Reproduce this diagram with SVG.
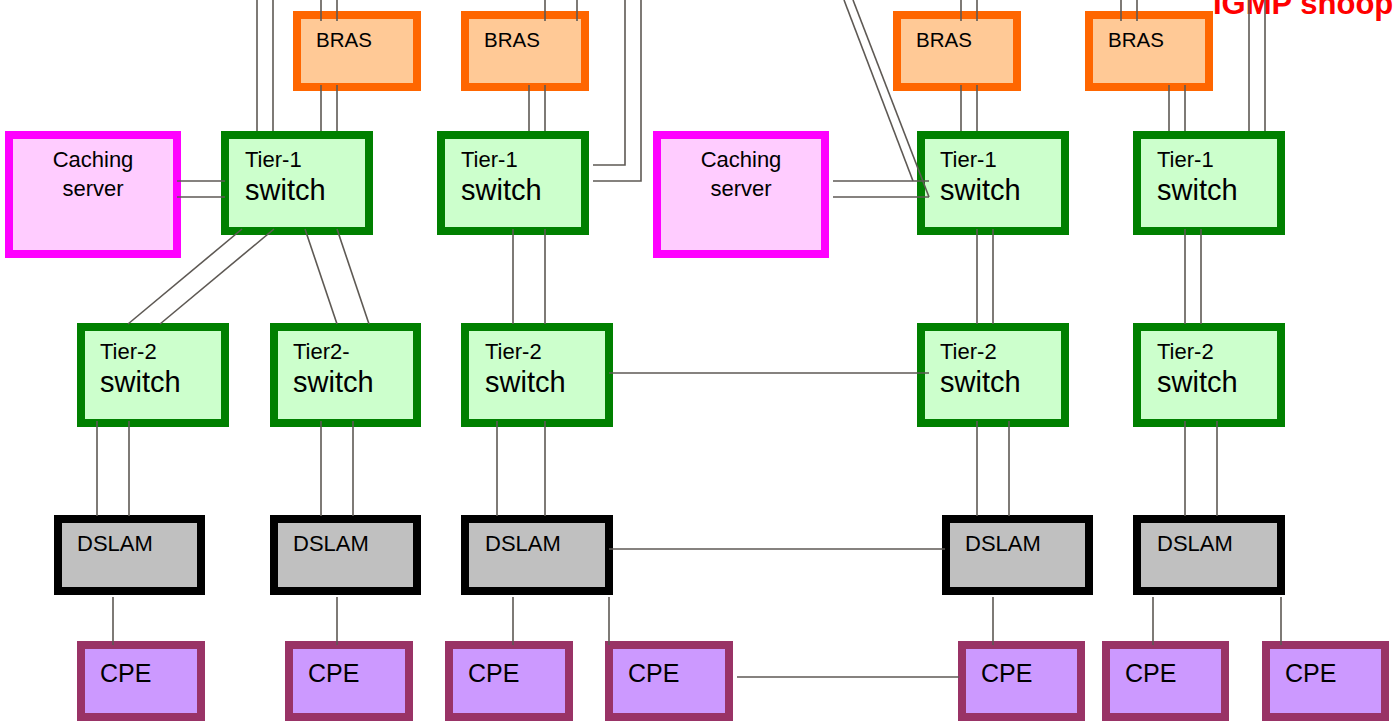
<svg xmlns="http://www.w3.org/2000/svg" width="1393" height="728" viewBox="0 0 1393 728">
  <style>
    .bras rect { fill: #FFC996; stroke: #FF6600; stroke-width: 8; }
    .sw rect { fill: #CCFFCC; stroke: #008000; stroke-width: 8; }
    .cache rect { fill: #FFCCFF; stroke: #FF00FF; stroke-width: 8; }
    .dslam rect { fill: #C0C0C0; stroke: #000000; stroke-width: 8; }
    .cpe rect { fill: #CC99FF; stroke: #993366; stroke-width: 8; }
    text { font-family: "Liberation Sans", Arial, sans-serif; fill: #000000; }
    .t20 { font-size: 20.5px; }
    .t22 { font-size: 22px; }
    .t28 { font-size: 29px; }
    .t25 { font-size: 25px; }
    .title { font-size: 31px; font-weight: bold; fill: #FF0000; }
    #links line, #links polyline { stroke: #5E5954; stroke-width: 1.6; fill: none; }
  </style>

  <rect x="0" y="0" width="1393" height="728" fill="#FFFFFF"/>

  <text class="title" x="1213" y="14">IGMP snooping</text>

  <!-- BRAS row -->
  <g id="bras1" class="bras"><rect x="297" y="15" width="120" height="72"/><text class="t20" x="316" y="47">BRAS</text></g>
  <g id="bras2" class="bras"><rect x="465" y="15" width="120" height="72"/><text class="t20" x="484" y="47">BRAS</text></g>
  <g id="bras3" class="bras"><rect x="897" y="15" width="120" height="72"/><text class="t20" x="916" y="47">BRAS</text></g>
  <g id="bras4" class="bras"><rect x="1089" y="15" width="120" height="72"/><text class="t20" x="1108" y="47">BRAS</text></g>

  <!-- Caching servers -->
  <g id="cache1" class="cache"><rect x="9" y="135" width="168" height="119"/>
    <text class="t22" x="93" y="167" text-anchor="middle">Caching</text>
    <text class="t22" x="93" y="196" text-anchor="middle">server</text></g>
  <g id="cache2" class="cache"><rect x="657" y="135" width="168" height="119"/>
    <text class="t22" x="741" y="167" text-anchor="middle">Caching</text>
    <text class="t22" x="741" y="196" text-anchor="middle">server</text></g>

  <!-- Tier-1 switches -->
  <g id="t1a" class="sw"><rect x="225" y="135" width="144" height="96"/><text class="t22" x="245" y="167">Tier-1</text><text class="t28" x="245" y="200">switch</text></g>
  <g id="t1b" class="sw"><rect x="441" y="135" width="144" height="96"/><text class="t22" x="461" y="167">Tier-1</text><text class="t28" x="461" y="200">switch</text></g>
  <g id="t1c" class="sw"><rect x="921" y="135" width="144" height="96"/><text class="t22" x="940" y="167">Tier-1</text><text class="t28" x="940" y="200">switch</text></g>
  <g id="t1d" class="sw"><rect x="1137" y="135" width="144" height="96"/><text class="t22" x="1157" y="167">Tier-1</text><text class="t28" x="1157" y="200">switch</text></g>

  <!-- Tier-2 switches -->
  <g id="t2a" class="sw"><rect x="81" y="327" width="144" height="96"/><text class="t22" x="100" y="359">Tier-2</text><text class="t28" x="100" y="392">switch</text></g>
  <g id="t2b" class="sw"><rect x="274" y="327" width="143" height="96"/><text class="t22" x="293" y="359">Tier2-</text><text class="t28" x="293" y="392">switch</text></g>
  <g id="t2c" class="sw"><rect x="465" y="327" width="144" height="96"/><text class="t22" x="485" y="359">Tier-2</text><text class="t28" x="485" y="392">switch</text></g>
  <g id="t2d" class="sw"><rect x="921" y="327" width="144" height="96"/><text class="t22" x="940" y="359">Tier-2</text><text class="t28" x="940" y="392">switch</text></g>
  <g id="t2e" class="sw"><rect x="1137" y="327" width="144" height="96"/><text class="t22" x="1157" y="359">Tier-2</text><text class="t28" x="1157" y="392">switch</text></g>

  <!-- DSLAMs -->
  <g id="dslam1" class="dslam"><rect x="58" y="519" width="143" height="72"/><text class="t22" x="77" y="551">DSLAM</text></g>
  <g id="dslam2" class="dslam"><rect x="274" y="519" width="143" height="72"/><text class="t22" x="293" y="551">DSLAM</text></g>
  <g id="dslam3" class="dslam"><rect x="465" y="519" width="144" height="72"/><text class="t22" x="485" y="551">DSLAM</text></g>
  <g id="dslam4" class="dslam"><rect x="946" y="519" width="143" height="72"/><text class="t22" x="965" y="551">DSLAM</text></g>
  <g id="dslam5" class="dslam"><rect x="1137" y="519" width="144" height="72"/><text class="t22" x="1157" y="551">DSLAM</text></g>

  <!-- CPEs -->
  <g id="cpe1" class="cpe"><rect x="81" y="645" width="120" height="72"/><text class="t25" x="100" y="682">CPE</text></g>
  <g id="cpe2" class="cpe"><rect x="289" y="645" width="120" height="72"/><text class="t25" x="308" y="682">CPE</text></g>
  <g id="cpe3" class="cpe"><rect x="449" y="645" width="120" height="72"/><text class="t25" x="468" y="682">CPE</text></g>
  <g id="cpe4" class="cpe"><rect x="609" y="645" width="120" height="72"/><text class="t25" x="628" y="682">CPE</text></g>
  <g id="cpe5" class="cpe"><rect x="962" y="645" width="119" height="72"/><text class="t25" x="981" y="682">CPE</text></g>
  <g id="cpe6" class="cpe"><rect x="1106" y="645" width="119" height="72"/><text class="t25" x="1125" y="682">CPE</text></g>
  <g id="cpe7" class="cpe"><rect x="1266" y="645" width="119" height="72"/><text class="t25" x="1285" y="682">CPE</text></g>

  <!-- Links (paired uplinks, drawn over node borders) -->
  <g id="links">
    <line x1="257" y1="0" x2="257" y2="131"/><line x1="273" y1="0" x2="273" y2="131"/>
    <line x1="321" y1="0" x2="321" y2="21"/><line x1="337" y1="0" x2="337" y2="21"/>
    <line x1="321" y1="85" x2="321" y2="131"/><line x1="337" y1="85" x2="337" y2="131"/>
    <line x1="545" y1="0" x2="545" y2="21"/><line x1="577" y1="0" x2="577" y2="21"/>
    <line x1="529" y1="85" x2="529" y2="131"/><line x1="545" y1="85" x2="545" y2="131"/>
    <polyline points="593,165 625,165 625,0"/>
    <polyline points="593,181 641,181 641,0"/>
    <line x1="961" y1="0" x2="961" y2="21"/><line x1="977" y1="0" x2="977" y2="21"/>
    <line x1="961" y1="85" x2="961" y2="131"/><line x1="977" y1="85" x2="977" y2="131"/>
    <line x1="1121" y1="0" x2="1121" y2="21"/><line x1="1137" y1="0" x2="1137" y2="21"/>
    <line x1="1169" y1="85" x2="1169" y2="131"/><line x1="1185" y1="85" x2="1185" y2="131"/>
    <line x1="1249" y1="0" x2="1249" y2="131"/><line x1="1265" y1="0" x2="1265" y2="131"/>
    <line x1="844" y1="0" x2="913" y2="181"/><line x1="853" y1="0" x2="929" y2="197"/>

    <line x1="177" y1="181" x2="225" y2="181"/><line x1="177" y1="197" x2="225" y2="197"/>
    <line x1="833" y1="181" x2="929" y2="181"/><line x1="833" y1="197" x2="929" y2="197"/>

    <line x1="242" y1="229" x2="128" y2="324"/><line x1="274" y1="229" x2="160" y2="324"/>
    <line x1="305" y1="229" x2="337" y2="324"/><line x1="337" y1="229" x2="369" y2="324"/>
    <line x1="513" y1="229" x2="513" y2="324"/><line x1="545" y1="229" x2="545" y2="324"/>
    <line x1="977" y1="229" x2="977" y2="324"/><line x1="993" y1="229" x2="993" y2="324"/>
    <line x1="1185" y1="229" x2="1185" y2="324"/><line x1="1201" y1="229" x2="1201" y2="324"/>

    <line x1="609" y1="373" x2="929" y2="373"/>

    <line x1="97" y1="421" x2="97" y2="516"/><line x1="129" y1="421" x2="129" y2="516"/>
    <line x1="321" y1="421" x2="321" y2="516"/><line x1="353" y1="421" x2="353" y2="516"/>
    <line x1="497" y1="421" x2="497" y2="516"/><line x1="545" y1="421" x2="545" y2="516"/>
    <line x1="977" y1="421" x2="977" y2="516"/><line x1="1009" y1="421" x2="1009" y2="516"/>
    <line x1="1185" y1="421" x2="1185" y2="516"/><line x1="1217" y1="421" x2="1217" y2="516"/>

    <line x1="609" y1="549" x2="945" y2="549"/>

    <line x1="113" y1="597" x2="113" y2="645"/>
    <line x1="337" y1="597" x2="337" y2="645"/>
    <line x1="513" y1="597" x2="513" y2="645"/>
    <line x1="609" y1="597" x2="609" y2="645"/>
    <line x1="993" y1="597" x2="993" y2="645"/>
    <line x1="1153" y1="597" x2="1153" y2="645"/>
    <line x1="1281" y1="597" x2="1281" y2="645"/>

    <line x1="737" y1="677" x2="959" y2="677"/>
  </g>
</svg>
